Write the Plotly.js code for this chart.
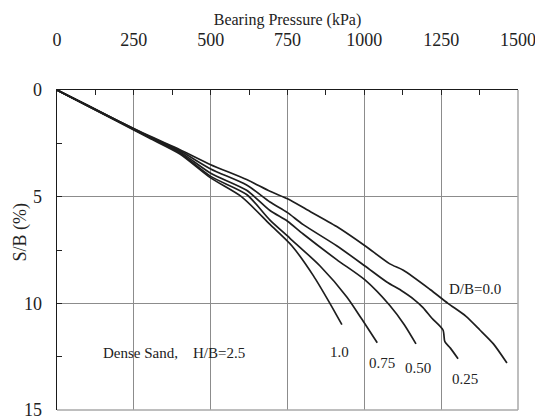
<!DOCTYPE html>
<html>
<head>
<meta charset="utf-8">
<script src="https://cdn.plot.ly/plotly-3.0.1.min.js"></script>
<style>
  html, body { margin: 0; padding: 0; background: #fff; }
  #chart { width: 535px; height: 420px; }
</style>
</head>
<body>
<div id="chart"></div>
<script>
// Bearing pressure (kPa) vs. settlement ratio S/B (%) for each embedment ratio D/B
const q_00 = [0, 100, 200, 300, 400, 500, 617, 693, 750, 812, 910, 1002, 1083, 1127, 1214, 1272, 1330, 1376, 1420, 1464];
const s_00 = [0, 0.72, 1.45, 2.15, 2.8, 3.5, 4.2, 4.75, 5.1, 5.6, 6.4, 7.3, 8.15, 8.45, 9.35, 10.0, 10.6, 11.25, 11.9, 12.8];

const q_025 = [0, 100, 200, 300, 400, 500, 617, 693, 750, 800, 910, 1002, 1073, 1120, 1160, 1191, 1220, 1256, 1262, 1280, 1305];
const s_025 = [0, 0.73, 1.46, 2.18, 2.85, 3.7, 4.45, 5.25, 5.75, 6.3, 7.3, 8.25, 9.0, 9.4, 9.8, 10.2, 10.7, 11.25, 11.8, 12.1, 12.6];

const q_050 = [0, 100, 200, 300, 400, 500, 617, 693, 750, 801, 910, 1002, 1083, 1130, 1168];
const s_050 = [0, 0.74, 1.47, 2.2, 2.9, 3.9, 4.7, 5.65, 6.15, 6.75, 7.95, 8.9, 10.1, 11.0, 11.9];

const q_075 = [0, 100, 200, 300, 400, 500, 617, 693, 758, 856, 943, 990, 1042];
const s_075 = [0, 0.75, 1.48, 2.22, 2.95, 4.05, 4.9, 6.1, 6.95, 8.25, 9.7, 10.7, 11.85];

const q_100 = [0, 100, 200, 300, 400, 500, 600, 693, 764, 834, 888, 927];
const s_100 = [0, 0.75, 1.5, 2.25, 3.0, 4.12, 5.0, 6.3, 7.3, 8.7, 10.0, 11.0];

const curveNames = ['D/B=0.0', '0.25', '0.50', '0.75', '1.0'];
const xTicks = [0, 250, 500, 750, 1000, 1250, 1500];
const yTicks = [0, 5, 10, 15];

const series = [
  [q_00, s_00], [q_025, s_025], [q_050, s_050], [q_075, s_075], [q_100, s_100]
];

const traces = series.map(function (d, i) {
  return {
    x: d[0], y: d[1], name: curveNames[i],
    type: 'scatter', mode: 'lines',
    line: { color: '#1e1e1e', width: 1.7, shape: 'spline', smoothing: 0.7 },
    hoverinfo: 'skip'
  };
});

const serif = 'Liberation Serif';

// curve labels placed near the end of each curve
const labelPos = [
  { x: 1360, y: 9.33 },
  { x: 1326, y: 13.55 },
  { x: 1176, y: 13.03 },
  { x: 1059, y: 12.8 },
  { x: 919, y: 12.28 }
];
const annotations = curveNames.map(function (t, i) {
  return {
    x: labelPos[i].x, y: labelPos[i].y, xref: 'x', yref: 'y',
    text: t, showarrow: false,
    font: { family: serif, size: 15, color: '#222' }
  };
});
annotations.push({
  x: 381, y: 12.33, xref: 'x', yref: 'y',
  text: 'Dense Sand,&nbsp;&nbsp;&nbsp; H/B=2.5', showarrow: false,
  font: { family: serif, size: 15, color: '#222' }
});
// vertical axis caption, set just left of the tick numbers
annotations.push({
  x: -0.08, y: 0.555, xref: 'paper', yref: 'paper',
  xanchor: 'center', yanchor: 'middle', textangle: -90,
  text: 'S/B (%)', showarrow: false,
  font: { family: serif, size: 18, color: '#222' }
});

const layout = {
  width: 535, height: 420,
  margin: { l: 57, r: 17, t: 90, b: 10 },
  paper_bgcolor: '#fff', plot_bgcolor: '#fff',
  showlegend: false,
  font: { family: serif, color: '#222' },
  // horizontal axis caption, sitting above the top tick numbers
  title: {
    text: 'Bearing Pressure (kPa)',
    x: 0.5, xref: 'paper', xanchor: 'center',
    y: 0.953, yref: 'container', yanchor: 'middle',
    font: { family: serif, size: 16, color: '#222' }
  },
  xaxis: {
    side: 'top', range: [0, 1500],
    tickvals: xTicks, ticktext: xTicks.map(String),
    ticks: 'inside', ticklen: 5, tickcolor: '#222', tickwidth: 1,
    ticklabelstandoff: 35, ticklabeloverflow: 'allow',
    tickfont: { family: serif, size: 18, color: '#222' },
    showgrid: true, gridcolor: '#8c8c8c', gridwidth: 1,
    showline: true, linecolor: '#1a1a1a', linewidth: 1.5,
    zeroline: false, automargin: false,
    minor: { dtick: 125, tick0: 0, ticks: 'inside', ticklen: 5, tickcolor: '#222', showgrid: false }
  },
  yaxis: {
    range: [15, 0],
    tickvals: yTicks, ticktext: yTicks.map(String),
    ticks: 'inside', ticklen: 5, tickcolor: '#222', tickwidth: 1,
    ticklabelstandoff: 10, ticklabeloverflow: 'allow',
    tickfont: { family: serif, size: 18, color: '#222' },
    showgrid: true, gridcolor: '#8c8c8c', gridwidth: 1,
    showline: true, linecolor: '#1a1a1a', linewidth: 1.5,
    zeroline: false, automargin: false,
    minor: { dtick: 2.5, tick0: 0, ticks: 'inside', ticklen: 5, tickcolor: '#222', showgrid: false }
  },
  shapes: [
    { type: 'line', xref: 'paper', yref: 'paper', x0: 1, x1: 1, y0: 0, y1: 1,
      line: { color: '#a8a8a8', width: 1.5 } },
    { type: 'line', xref: 'paper', yref: 'paper', x0: 0, x1: 1, y0: 0, y1: 0,
      line: { color: '#a8a8a8', width: 1.5 } }
  ],
  annotations: annotations
};

Plotly.newPlot('chart', traces, layout, { staticPlot: true, displayModeBar: false });
</script>
</body>
</html>
